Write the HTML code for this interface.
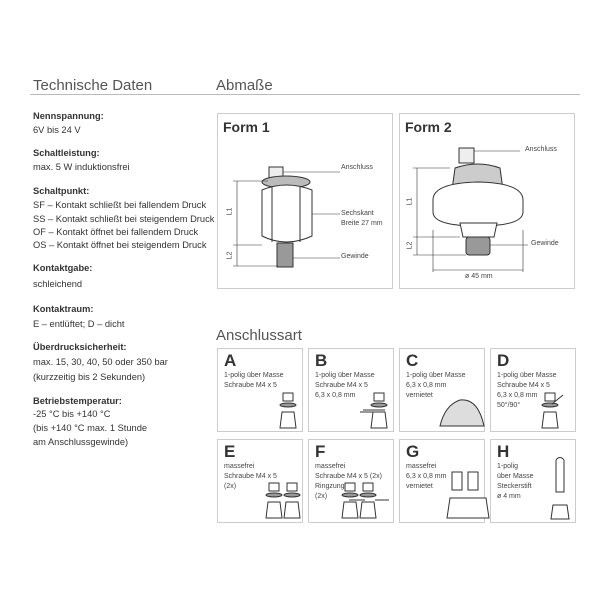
<!DOCTYPE html>
<html><head><meta charset="utf-8"><style>
body{margin:0;background:#fff;width:600px;height:600px;position:relative;font-family:"Liberation Sans",sans-serif;color:#333;overflow:hidden}
.t{position:absolute;font-size:9.3px;line-height:13px;white-space:nowrap}
.b{font-weight:bold}
.h{position:absolute;font-size:15px;color:#555}
.box{position:absolute;border:1px solid #ccc;box-sizing:border-box}
.lbl{position:absolute;font-size:7px;color:#444;white-space:nowrap}
.L{position:absolute;left:6px;top:2px;font-size:17px;font-weight:bold;color:#333}
.d{position:absolute;left:6px;top:22px;font-size:7px;line-height:10px;color:#444;white-space:nowrap}
</style></head><body>
<div class="h" style="left:33px;top:77px">Technische Daten</div>
<div class="h" style="left:216px;top:77px">Abmaße</div>
<div style="position:absolute;left:30px;top:94px;width:550px;height:1px;background:#bbb"></div>

<div class="t b" style="left:33px;top:110px">Nennspannung:</div>
<div class="t" style="left:33px;top:124px">6V bis 24 V</div>
<div class="t b" style="left:33px;top:147px">Schaltleistung:</div>
<div class="t" style="left:33px;top:161px">max. 5 W induktionsfrei</div>
<div class="t b" style="left:33px;top:185px">Schaltpunkt:</div>
<div class="t" style="left:33px;top:199px">SF – Kontakt schließt bei fallendem Druck</div>
<div class="t" style="left:33px;top:213px">SS – Kontakt schließt bei steigendem Druck</div>
<div class="t" style="left:33px;top:226px">OF – Kontakt öffnet bei fallendem Druck</div>
<div class="t" style="left:33px;top:239px">OS – Kontakt öffnet bei steigendem Druck</div>
<div class="t b" style="left:33px;top:262px">Kontaktgabe:</div>
<div class="t" style="left:33px;top:278px">schleichend</div>
<div class="t b" style="left:33px;top:303px">Kontaktraum:</div>
<div class="t" style="left:33px;top:318px">E – entlüftet; D – dicht</div>
<div class="t b" style="left:33px;top:341px">Überdrucksicherheit:</div>
<div class="t" style="left:33px;top:356px">max. 15, 30, 40, 50 oder 350 bar</div>
<div class="t" style="left:33px;top:371px">(kurzzeitig bis 2 Sekunden)</div>
<div class="t b" style="left:33px;top:395px">Betriebstemperatur:</div>
<div class="t" style="left:33px;top:408px">-25 °C bis +140 °C</div>
<div class="t" style="left:33px;top:422px">(bis +140 °C max. 1 Stunde</div>
<div class="t" style="left:33px;top:436px">am Anschlussgewinde)</div>

<div class="box" style="left:217px;top:113px;width:176px;height:176px"></div>
<div class="box" style="left:399px;top:113px;width:176px;height:176px"></div>
<div style="position:absolute;left:223px;top:119px;font-size:14px;font-weight:bold">Form 1</div>
<div style="position:absolute;left:405px;top:119px;font-size:14px;font-weight:bold">Form 2</div>

<svg width="600" height="600" style="position:absolute;left:0;top:0" fill="none" stroke="#333" stroke-width="1">
<rect x="269" y="167" width="14" height="14" fill="#eee"/>
<ellipse cx="286" cy="182" rx="24" ry="6" fill="#bbb"/>
<path d="M262 190 Q286 180 312 190 L312 236 Q286 248 262 236 Z" fill="#fff"/>
<path d="M272 187 L272 242 M300 187 L300 242"/>
<rect x="277" y="243" width="16" height="24" fill="#999"/>
<path d="M237 181 V266 M233 181 H268 M233 245 H262 M233 266 H278" stroke-width="0.6"/>
<path d="M283 172 H340 M312 214 H340 M293 258 H340" stroke-width="0.6"/>
<rect x="459" y="148" width="15" height="15" fill="#eee"/>
<path d="M452 190 L455 168 Q478 160 500 168 L503 190" fill="#ccc"/>
<path d="M433 200 Q433 183 478 182 Q523 183 523 200 L523 212 Q523 226 478 226 Q433 226 433 212 Z" fill="#fff"/>
<path d="M460 223 L497 223 L494 237 L463 237 Z" fill="#fff"/>
<rect x="466" y="237" width="24" height="18" rx="3" fill="#999"/>
<path d="M417 168 V255 M413 168 H450 M413 237 H460 M413 255 H466 M433 230 V272 M523 230 V272 M433 270 H523" stroke-width="0.6"/>
<path d="M474 151 H520 M490 245 H528" stroke-width="0.6"/>
</svg>
<div class="lbl" style="left:341px;top:164px">Anschluss</div>
<div class="lbl" style="left:341px;top:209px;line-height:10px">Sechskant<br>Breite 27 mm</div>
<div class="lbl" style="left:341px;top:253px">Gewinde</div>
<div class="lbl" style="left:525px;top:146px">Anschluss</div>
<div class="lbl" style="left:531px;top:240px">Gewinde</div>
<div class="lbl" style="left:465px;top:273px">ø 45 mm</div>
<div class="lbl" style="left:226px;top:208px;transform:rotate(-90deg)">L1</div>
<div class="lbl" style="left:226px;top:252px;transform:rotate(-90deg)">L2</div>
<div class="lbl" style="left:406px;top:198px;transform:rotate(-90deg)">L1</div>
<div class="lbl" style="left:406px;top:242px;transform:rotate(-90deg)">L2</div>

<div class="h" style="left:216px;top:327px">Anschlussart</div>

<div class="box" style="left:217px;top:348px;width:86px;height:84px"><div class="L">A</div><div class="d">1-polig über Masse<br>Schraube M4 x 5</div></div>
<div class="box" style="left:308px;top:348px;width:86px;height:84px"><div class="L">B</div><div class="d">1-polig über Masse<br>Schraube M4 x 5<br>6,3 x 0,8 mm</div></div>
<div class="box" style="left:399px;top:348px;width:86px;height:84px"><div class="L">C</div><div class="d">1-polig über Masse<br>6,3 x 0,8 mm<br>vernietet</div></div>
<div class="box" style="left:490px;top:348px;width:86px;height:84px"><div class="L">D</div><div class="d">1-polig über Masse<br>Schraube M4 x 5<br>6,3 x 0,8 mm<br>50°/90°</div></div>
<div class="box" style="left:217px;top:439px;width:86px;height:84px"><div class="L">E</div><div class="d">massefrei<br>Schraube M4 x 5<br>(2x)</div></div>
<div class="box" style="left:308px;top:439px;width:86px;height:84px"><div class="L">F</div><div class="d">massefrei<br>Schraube M4 x 5 (2x)<br>Ringzunge<br>(2x)</div></div>
<div class="box" style="left:399px;top:439px;width:86px;height:84px"><div class="L">G</div><div class="d">massefrei<br>6,3 x 0,8 mm<br>vernietet</div></div>
<div class="box" style="left:490px;top:439px;width:86px;height:84px"><div class="L">H</div><div class="d">1-polig<br>über Masse<br>Steckerstift<br>ø 4 mm</div></div>

<svg width="600" height="600" style="position:absolute;left:0;top:0" fill="none" stroke="#333" stroke-width="1">
<g id="s"><rect x="283" y="393" width="10" height="8" fill="#fff"/><ellipse cx="288" cy="405" rx="8" ry="2" fill="#999"/><path d="M280 428 L282 412 H294 L296 428 Z" fill="#fff"/></g>
<use href="#s" x="91"/><path d="M363 410 H385 M360 412 H378" />
<path d="M440 426 Q445 405 460 400 Q478 398 484 426 Z" fill="#ddd"/>
<use href="#s" x="262"/><path d="M552 404 L563 395"/>
<use href="#s" x="-14" y="90"/><use href="#s" x="4" y="90"/>
<use href="#s" x="62" y="90"/><use href="#s" x="80" y="90"/>
<path d="M349 500 H365 M389 500 H375" />
<path d="M447 518 L450 498 H486 L489 518 Z M452 472 h10 v18 h-10z M468 472 h10 v18 h-10z" fill="#fff"/>
<path d="M556 460 Q560 455 564 460 V492 H556 Z" fill="#fff"/><path d="M551 519 L553 505 H567 L569 519 Z" fill="#fff"/>
</svg>
</body></html>
